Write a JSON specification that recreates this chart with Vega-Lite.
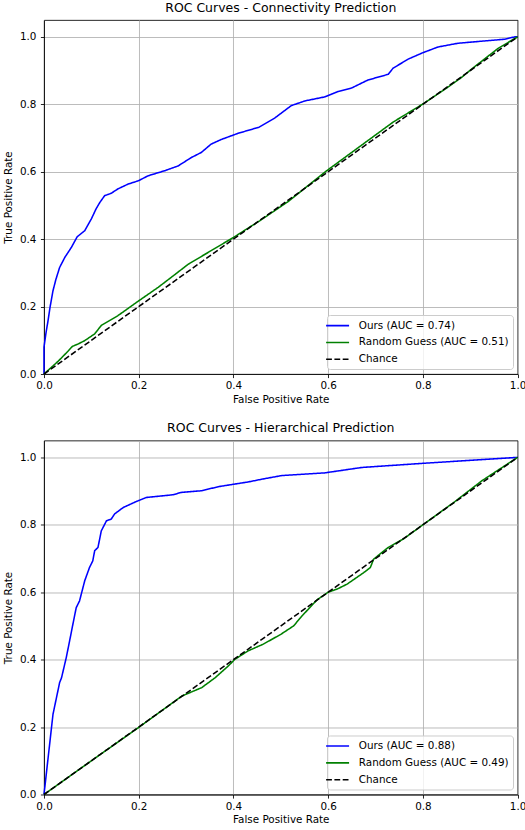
{
  "$schema": "https://vega.github.io/schema/vega-lite/v6.json",
  "padding": {"left": 2, "top": 1, "right": 2, "bottom": 2},
  "datasets": {
    "conn": [
      {"curve": "Ours (AUC = 0.74)", "fpr": 0, "tpr": 0},
      {"curve": "Ours (AUC = 0.74)", "fpr": 0, "tpr": 0.08},
      {"curve": "Ours (AUC = 0.74)", "fpr": 0.004, "tpr": 0.12},
      {"curve": "Ours (AUC = 0.74)", "fpr": 0.0085, "tpr": 0.158},
      {"curve": "Ours (AUC = 0.74)", "fpr": 0.013, "tpr": 0.2},
      {"curve": "Ours (AUC = 0.74)", "fpr": 0.019, "tpr": 0.247},
      {"curve": "Ours (AUC = 0.74)", "fpr": 0.025, "tpr": 0.28},
      {"curve": "Ours (AUC = 0.74)", "fpr": 0.033, "tpr": 0.316},
      {"curve": "Ours (AUC = 0.74)", "fpr": 0.044, "tpr": 0.346},
      {"curve": "Ours (AUC = 0.74)", "fpr": 0.058, "tpr": 0.376},
      {"curve": "Ours (AUC = 0.74)", "fpr": 0.07, "tpr": 0.407},
      {"curve": "Ours (AUC = 0.74)", "fpr": 0.086, "tpr": 0.425},
      {"curve": "Ours (AUC = 0.74)", "fpr": 0.1, "tpr": 0.46},
      {"curve": "Ours (AUC = 0.74)", "fpr": 0.11, "tpr": 0.49},
      {"curve": "Ours (AUC = 0.74)", "fpr": 0.118, "tpr": 0.509},
      {"curve": "Ours (AUC = 0.74)", "fpr": 0.128, "tpr": 0.529},
      {"curve": "Ours (AUC = 0.74)", "fpr": 0.142, "tpr": 0.536},
      {"curve": "Ours (AUC = 0.74)", "fpr": 0.156, "tpr": 0.549},
      {"curve": "Ours (AUC = 0.74)", "fpr": 0.177, "tpr": 0.563},
      {"curve": "Ours (AUC = 0.74)", "fpr": 0.199, "tpr": 0.573},
      {"curve": "Ours (AUC = 0.74)", "fpr": 0.22, "tpr": 0.588},
      {"curve": "Ours (AUC = 0.74)", "fpr": 0.255, "tpr": 0.603},
      {"curve": "Ours (AUC = 0.74)", "fpr": 0.283, "tpr": 0.617},
      {"curve": "Ours (AUC = 0.74)", "fpr": 0.311, "tpr": 0.642},
      {"curve": "Ours (AUC = 0.74)", "fpr": 0.332, "tpr": 0.657},
      {"curve": "Ours (AUC = 0.74)", "fpr": 0.353, "tpr": 0.682},
      {"curve": "Ours (AUC = 0.74)", "fpr": 0.375, "tpr": 0.696},
      {"curve": "Ours (AUC = 0.74)", "fpr": 0.41, "tpr": 0.714},
      {"curve": "Ours (AUC = 0.74)", "fpr": 0.454, "tpr": 0.732},
      {"curve": "Ours (AUC = 0.74)", "fpr": 0.487, "tpr": 0.759},
      {"curve": "Ours (AUC = 0.74)", "fpr": 0.522, "tpr": 0.796},
      {"curve": "Ours (AUC = 0.74)", "fpr": 0.551, "tpr": 0.81},
      {"curve": "Ours (AUC = 0.74)", "fpr": 0.593, "tpr": 0.822},
      {"curve": "Ours (AUC = 0.74)", "fpr": 0.621, "tpr": 0.838},
      {"curve": "Ours (AUC = 0.74)", "fpr": 0.649, "tpr": 0.848},
      {"curve": "Ours (AUC = 0.74)", "fpr": 0.684, "tpr": 0.872},
      {"curve": "Ours (AUC = 0.74)", "fpr": 0.727, "tpr": 0.889},
      {"curve": "Ours (AUC = 0.74)", "fpr": 0.737, "tpr": 0.907},
      {"curve": "Ours (AUC = 0.74)", "fpr": 0.769, "tpr": 0.934},
      {"curve": "Ours (AUC = 0.74)", "fpr": 0.8, "tpr": 0.953},
      {"curve": "Ours (AUC = 0.74)", "fpr": 0.832, "tpr": 0.97},
      {"curve": "Ours (AUC = 0.74)", "fpr": 0.874, "tpr": 0.981},
      {"curve": "Ours (AUC = 0.74)", "fpr": 0.931, "tpr": 0.988},
      {"curve": "Ours (AUC = 0.74)", "fpr": 0.973, "tpr": 0.993},
      {"curve": "Ours (AUC = 0.74)", "fpr": 0.994, "tpr": 1.0},
      {"curve": "Ours (AUC = 0.74)", "fpr": 1, "tpr": 1},
      {"curve": "Random Guess (AUC = 0.51)", "fpr": 0, "tpr": 0},
      {"curve": "Random Guess (AUC = 0.51)", "fpr": 0.03, "tpr": 0.038},
      {"curve": "Random Guess (AUC = 0.51)", "fpr": 0.051, "tpr": 0.068},
      {"curve": "Random Guess (AUC = 0.51)", "fpr": 0.06, "tpr": 0.082},
      {"curve": "Random Guess (AUC = 0.51)", "fpr": 0.072, "tpr": 0.089},
      {"curve": "Random Guess (AUC = 0.51)", "fpr": 0.086, "tpr": 0.099},
      {"curve": "Random Guess (AUC = 0.51)", "fpr": 0.107, "tpr": 0.119},
      {"curve": "Random Guess (AUC = 0.51)", "fpr": 0.121, "tpr": 0.144},
      {"curve": "Random Guess (AUC = 0.51)", "fpr": 0.156, "tpr": 0.173},
      {"curve": "Random Guess (AUC = 0.51)", "fpr": 0.199, "tpr": 0.216},
      {"curve": "Random Guess (AUC = 0.51)", "fpr": 0.241, "tpr": 0.257},
      {"curve": "Random Guess (AUC = 0.51)", "fpr": 0.269, "tpr": 0.287},
      {"curve": "Random Guess (AUC = 0.51)", "fpr": 0.304, "tpr": 0.325},
      {"curve": "Random Guess (AUC = 0.51)", "fpr": 0.353, "tpr": 0.366},
      {"curve": "Random Guess (AUC = 0.51)", "fpr": 0.4, "tpr": 0.405},
      {"curve": "Random Guess (AUC = 0.51)", "fpr": 0.456, "tpr": 0.455},
      {"curve": "Random Guess (AUC = 0.51)", "fpr": 0.516, "tpr": 0.512},
      {"curve": "Random Guess (AUC = 0.51)", "fpr": 0.597, "tpr": 0.603},
      {"curve": "Random Guess (AUC = 0.51)", "fpr": 0.667, "tpr": 0.675},
      {"curve": "Random Guess (AUC = 0.51)", "fpr": 0.738, "tpr": 0.748},
      {"curve": "Random Guess (AUC = 0.51)", "fpr": 0.799, "tpr": 0.8},
      {"curve": "Random Guess (AUC = 0.51)", "fpr": 0.85, "tpr": 0.848},
      {"curve": "Random Guess (AUC = 0.51)", "fpr": 0.881, "tpr": 0.879},
      {"curve": "Random Guess (AUC = 0.51)", "fpr": 0.907, "tpr": 0.909},
      {"curve": "Random Guess (AUC = 0.51)", "fpr": 0.959, "tpr": 0.966},
      {"curve": "Random Guess (AUC = 0.51)", "fpr": 1, "tpr": 1},
      {"curve": "Chance", "fpr": 0, "tpr": 0},
      {"curve": "Chance", "fpr": 1, "tpr": 1}
    ],
    "hier": [
      {"curve": "Ours (AUC = 0.88)", "fpr": 0, "tpr": 0},
      {"curve": "Ours (AUC = 0.88)", "fpr": 0.019, "tpr": 0.238},
      {"curve": "Ours (AUC = 0.88)", "fpr": 0.033, "tpr": 0.332},
      {"curve": "Ours (AUC = 0.88)", "fpr": 0.037, "tpr": 0.346},
      {"curve": "Ours (AUC = 0.88)", "fpr": 0.047, "tpr": 0.406},
      {"curve": "Ours (AUC = 0.88)", "fpr": 0.054, "tpr": 0.455},
      {"curve": "Ours (AUC = 0.88)", "fpr": 0.061, "tpr": 0.505},
      {"curve": "Ours (AUC = 0.88)", "fpr": 0.068, "tpr": 0.554},
      {"curve": "Ours (AUC = 0.88)", "fpr": 0.075, "tpr": 0.574},
      {"curve": "Ours (AUC = 0.88)", "fpr": 0.086, "tpr": 0.634},
      {"curve": "Ours (AUC = 0.88)", "fpr": 0.096, "tpr": 0.673},
      {"curve": "Ours (AUC = 0.88)", "fpr": 0.103, "tpr": 0.693},
      {"curve": "Ours (AUC = 0.88)", "fpr": 0.107, "tpr": 0.723},
      {"curve": "Ours (AUC = 0.88)", "fpr": 0.114, "tpr": 0.733},
      {"curve": "Ours (AUC = 0.88)", "fpr": 0.121, "tpr": 0.782},
      {"curve": "Ours (AUC = 0.88)", "fpr": 0.132, "tpr": 0.812},
      {"curve": "Ours (AUC = 0.88)", "fpr": 0.142, "tpr": 0.817},
      {"curve": "Ours (AUC = 0.88)", "fpr": 0.149, "tpr": 0.832},
      {"curve": "Ours (AUC = 0.88)", "fpr": 0.167, "tpr": 0.851},
      {"curve": "Ours (AUC = 0.88)", "fpr": 0.184, "tpr": 0.862},
      {"curve": "Ours (AUC = 0.88)", "fpr": 0.195, "tpr": 0.869},
      {"curve": "Ours (AUC = 0.88)", "fpr": 0.216, "tpr": 0.881},
      {"curve": "Ours (AUC = 0.88)", "fpr": 0.272, "tpr": 0.889},
      {"curve": "Ours (AUC = 0.88)", "fpr": 0.29, "tpr": 0.896},
      {"curve": "Ours (AUC = 0.88)", "fpr": 0.333, "tpr": 0.901},
      {"curve": "Ours (AUC = 0.88)", "fpr": 0.368, "tpr": 0.913},
      {"curve": "Ours (AUC = 0.88)", "fpr": 0.431, "tpr": 0.927},
      {"curve": "Ours (AUC = 0.88)", "fpr": 0.463, "tpr": 0.936},
      {"curve": "Ours (AUC = 0.88)", "fpr": 0.502, "tpr": 0.946},
      {"curve": "Ours (AUC = 0.88)", "fpr": 0.593, "tpr": 0.954},
      {"curve": "Ours (AUC = 0.88)", "fpr": 0.671, "tpr": 0.97},
      {"curve": "Ours (AUC = 0.88)", "fpr": 0.797, "tpr": 0.982},
      {"curve": "Ours (AUC = 0.88)", "fpr": 1, "tpr": 1},
      {"curve": "Random Guess (AUC = 0.49)", "fpr": 0, "tpr": 0},
      {"curve": "Random Guess (AUC = 0.49)", "fpr": 0.1, "tpr": 0.1},
      {"curve": "Random Guess (AUC = 0.49)", "fpr": 0.199, "tpr": 0.198},
      {"curve": "Random Guess (AUC = 0.49)", "fpr": 0.291, "tpr": 0.292},
      {"curve": "Random Guess (AUC = 0.49)", "fpr": 0.333, "tpr": 0.317},
      {"curve": "Random Guess (AUC = 0.49)", "fpr": 0.361, "tpr": 0.346},
      {"curve": "Random Guess (AUC = 0.49)", "fpr": 0.389, "tpr": 0.381},
      {"curve": "Random Guess (AUC = 0.49)", "fpr": 0.403, "tpr": 0.401},
      {"curve": "Random Guess (AUC = 0.49)", "fpr": 0.431, "tpr": 0.426},
      {"curve": "Random Guess (AUC = 0.49)", "fpr": 0.463, "tpr": 0.446},
      {"curve": "Random Guess (AUC = 0.49)", "fpr": 0.5, "tpr": 0.475},
      {"curve": "Random Guess (AUC = 0.49)", "fpr": 0.527, "tpr": 0.5},
      {"curve": "Random Guess (AUC = 0.49)", "fpr": 0.545, "tpr": 0.53},
      {"curve": "Random Guess (AUC = 0.49)", "fpr": 0.577, "tpr": 0.578},
      {"curve": "Random Guess (AUC = 0.49)", "fpr": 0.6, "tpr": 0.6},
      {"curve": "Random Guess (AUC = 0.49)", "fpr": 0.62, "tpr": 0.61},
      {"curve": "Random Guess (AUC = 0.49)", "fpr": 0.64, "tpr": 0.624},
      {"curve": "Random Guess (AUC = 0.49)", "fpr": 0.675, "tpr": 0.658},
      {"curve": "Random Guess (AUC = 0.49)", "fpr": 0.689, "tpr": 0.673},
      {"curve": "Random Guess (AUC = 0.49)", "fpr": 0.696, "tpr": 0.698},
      {"curve": "Random Guess (AUC = 0.49)", "fpr": 0.727, "tpr": 0.733},
      {"curve": "Random Guess (AUC = 0.49)", "fpr": 0.759, "tpr": 0.758},
      {"curve": "Random Guess (AUC = 0.49)", "fpr": 0.802, "tpr": 0.802},
      {"curve": "Random Guess (AUC = 0.49)", "fpr": 0.865, "tpr": 0.866},
      {"curve": "Random Guess (AUC = 0.49)", "fpr": 0.924, "tpr": 0.93},
      {"curve": "Random Guess (AUC = 0.49)", "fpr": 1, "tpr": 1},
      {"curve": "Chance", "fpr": 0, "tpr": 0},
      {"curve": "Chance", "fpr": 1, "tpr": 1}
    ]
  },
  "spacing": 16.5,
  "vconcat": [
    {
      "title": "ROC Curves - Connectivity Prediction",
      "width": 473.6,
      "height": 354,
      "data": {"name": "conn"},
      "mark": {"type": "line", "strokeWidth": 1.55},
      "encoding": {
        "x": {"field": "fpr", "type": "quantitative", "scale": {"domain": [0, 1], "nice": false, "zero": false}, "axis": {"title": "False Positive Rate", "values": [0, 0.2, 0.4, 0.6, 0.8, 1]}},
        "y": {"field": "tpr", "type": "quantitative", "scale": {"domain": [0, 1.05], "nice": false, "zero": false}, "axis": {"title": "True Positive Rate", "values": [0, 0.2, 0.4, 0.6, 0.8, 1]}},
        "color": {"field": "curve", "type": "nominal", "scale": {"domain": ["Ours (AUC = 0.74)", "Random Guess (AUC = 0.51)", "Chance"], "range": ["#0000ff", "#008000", "#000000"]}, "legend": {"title": null}},
        "strokeDash": {"field": "curve", "type": "nominal", "scale": {"domain": ["Ours (AUC = 0.74)", "Random Guess (AUC = 0.51)", "Chance"], "range": [[1, 0], [1, 0], [5.8, 2.5]]}, "legend": {"title": null}},
        "order": [{"field": "fpr", "type": "quantitative"}, {"field": "tpr", "type": "quantitative"}]
      }
    },
    {
      "title": "ROC Curves - Hierarchical Prediction",
      "width": 473.6,
      "height": 354,
      "data": {"name": "hier"},
      "mark": {"type": "line", "strokeWidth": 1.55},
      "encoding": {
        "x": {"field": "fpr", "type": "quantitative", "scale": {"domain": [0, 1], "nice": false, "zero": false}, "axis": {"title": "False Positive Rate", "values": [0, 0.2, 0.4, 0.6, 0.8, 1]}},
        "y": {"field": "tpr", "type": "quantitative", "scale": {"domain": [0, 1.05], "nice": false, "zero": false}, "axis": {"title": "True Positive Rate", "values": [0, 0.2, 0.4, 0.6, 0.8, 1]}},
        "color": {"field": "curve", "type": "nominal", "scale": {"domain": ["Ours (AUC = 0.88)", "Random Guess (AUC = 0.49)", "Chance"], "range": ["#0000ff", "#008000", "#000000"]}, "legend": {"title": null}},
        "strokeDash": {"field": "curve", "type": "nominal", "scale": {"domain": ["Ours (AUC = 0.88)", "Random Guess (AUC = 0.49)", "Chance"], "range": [[1, 0], [1, 0], [5.8, 2.5]]}, "legend": {"title": null}},
        "order": [{"field": "fpr", "type": "quantitative"}, {"field": "tpr", "type": "quantitative"}]
      }
    }
  ],
  "resolve": {
    "scale": {"color": "independent", "strokeDash": "independent", "x": "independent", "y": "independent"},
    "legend": {"color": "independent", "strokeDash": "independent"},
    "axis": {"x": "independent", "y": "independent"}
  },
  "config": {
    "font": "DejaVu Sans",
    "view": {"stroke": "#000000", "strokeWidth": 0.85},
    "axis": {
      "labelFont": "DejaVu Sans", "labelFontSize": 10.4, "labelColor": "#000000",
      "titleFont": "DejaVu Sans", "titleFontSize": 10.4, "titleFontWeight": "normal", "titleColor": "#000000",
      "domainColor": "#000000", "domainWidth": 0.85,
      "tickColor": "#000000", "tickWidth": 0.85, "tickSize": 3.6,
      "gridColor": "#b0b0b0", "gridWidth": 0.85, "gridOpacity": 1,
      "labelFlush": false, "labelOverlap": false,
      "format": ".1f"
    },
    "axisX": {"labelPadding": 3, "titlePadding": 3},
    "axisY": {"labelPadding": 4.5, "titlePadding": 6},
    "title": {"font": "DejaVu Sans", "fontSize": 12.5, "fontWeight": "normal", "color": "#000000", "frame": "group", "anchor": "middle", "offset": 6},
    "legend": {
      "orient": "bottom-right", "offset": 5,
      "labelFont": "DejaVu Sans", "labelFontSize": 10.4, "labelColor": "#000000", "labelLimit": 400,
      "symbolType": "M-2,0H2", "symbolSize": 132, "symbolStrokeWidth": 1.55, "labelOffset": 14.2,
      "fillColor": "rgba(255,255,255,0.8)", "strokeColor": "#cccccc", "cornerRadius": 3,
      "padding": 3.6, "rowPadding": 3.8
    }
  }
}
